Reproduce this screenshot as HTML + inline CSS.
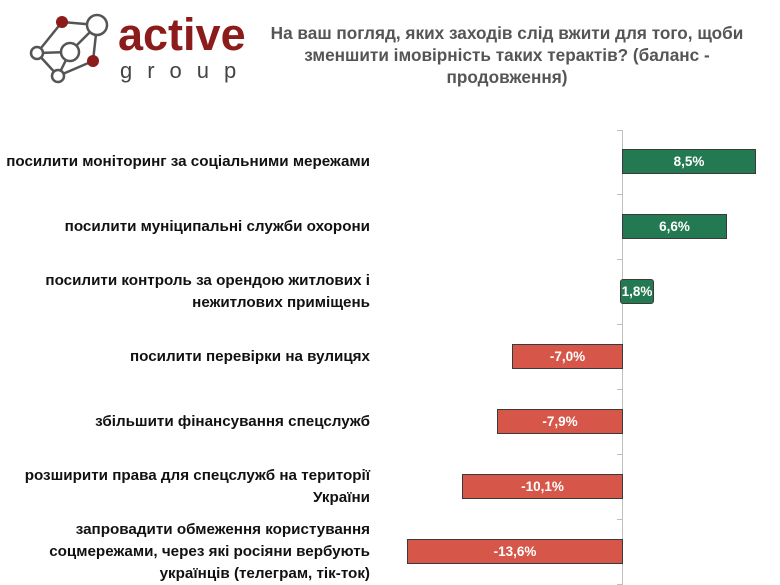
<!DOCTYPE html>
<html><head><meta charset="utf-8"><style>
body{margin:0;width:780px;height:585px;background:#fff;position:relative;overflow:hidden;font-family:"Liberation Sans",Arial,sans-serif}
.t{position:absolute;left:250px;width:514px;top:22px;text-align:center;font-weight:bold;font-size:17.2px;line-height:22px;color:#555}
.l{position:absolute;right:410px;text-align:right;font-weight:bold;font-size:15.2px;line-height:22px;color:#111;white-space:nowrap}
.b{position:absolute;height:25px;border:1px solid #3a3a3a;box-sizing:border-box;color:#fff;font-weight:bold;font-size:13.5px;line-height:23px;text-align:center}
.g{background:#237a52}.r{background:#d6574a}
.ax{position:absolute;left:622px;top:130px;width:1px;height:455px;background:#bfbfbf}
.tk{position:absolute;left:617px;width:5px;height:1px;background:#bfbfbf}
</style></head><body>
<svg style="position:absolute;left:0;top:0" width="260" height="100">
<g stroke="#555" stroke-width="2.5" fill="none">
<line x1="62" y1="22" x2="97" y2="25"/><line x1="62" y1="22" x2="37" y2="53"/><line x1="97" y1="25" x2="70" y2="52"/><line x1="97" y1="25" x2="93" y2="61"/>
<line x1="37" y1="53" x2="70" y2="52"/><line x1="37" y1="53" x2="58" y2="76"/><line x1="70" y1="52" x2="58" y2="76"/><line x1="58" y1="76" x2="93" y2="61"/>
</g>
<circle cx="62" cy="22" r="6" fill="#8c1c1c"/><circle cx="93" cy="61" r="6" fill="#8c1c1c"/>
<circle cx="97" cy="25" r="10" fill="#fff" stroke="#555" stroke-width="2.5"/>
<circle cx="70" cy="52" r="9" fill="#fff" stroke="#555" stroke-width="2.5"/>
<circle cx="37" cy="53" r="6" fill="#fff" stroke="#555" stroke-width="2.5"/>
<circle cx="58" cy="76" r="6" fill="#fff" stroke="#555" stroke-width="2.5"/>
<text x="118" y="50" font-family="Liberation Sans" font-weight="bold" font-size="45" fill="#8c1c1c">active</text>
<text x="120" y="78" font-family="Liberation Sans" font-size="22" fill="#444" letter-spacing="15">group</text>
</svg>
<div class="t">На ваш погляд, яких заходів слід вжити для того, щоби<br>зменшити імовірність таких терактів? (баланс -<br>продовження)</div>
<div class="ax"></div>
<div class="tk" style="top:130px"></div><div class="tk" style="top:194px"></div><div class="tk" style="top:259px"></div><div class="tk" style="top:324px"></div><div class="tk" style="top:389px"></div><div class="tk" style="top:454px"></div><div class="tk" style="top:519px"></div><div class="tk" style="top:584px"></div>
<div class="l" style="top:151px">посилити моніторинг за соціальними мережами</div>
<div class="l" style="top:216px">посилити муніципальні служби охорони</div>
<div class="l" style="top:270px">посилити контроль за орендою житлових і<br>нежитлових приміщень</div>
<div class="l" style="top:346px">посилити перевірки на вулицях</div>
<div class="l" style="top:411px">збільшити фінансування спецслужб</div>
<div class="l" style="top:465px">розширити права для спецслужб на території<br>України</div>
<div class="l" style="top:519px">запровадити обмеження користування<br>соцмережами, через які росіяни вербують<br>українців (телеграм, тік-ток)</div>
<div class="b g" style="left:622px;top:149px;width:134px">8,5%</div>
<div class="b g" style="left:622px;top:214px;width:105px">6,6%</div>
<div class="b g" style="left:620px;top:279px;width:34px;border-radius:3px">1,8%</div>
<div class="b r" style="left:512px;top:344px;width:111px">-7,0%</div>
<div class="b r" style="left:497px;top:409px;width:126px">-7,9%</div>
<div class="b r" style="left:462px;top:474px;width:161px">-10,1%</div>
<div class="b r" style="left:407px;top:539px;width:216px">-13,6%</div>
</body></html>
